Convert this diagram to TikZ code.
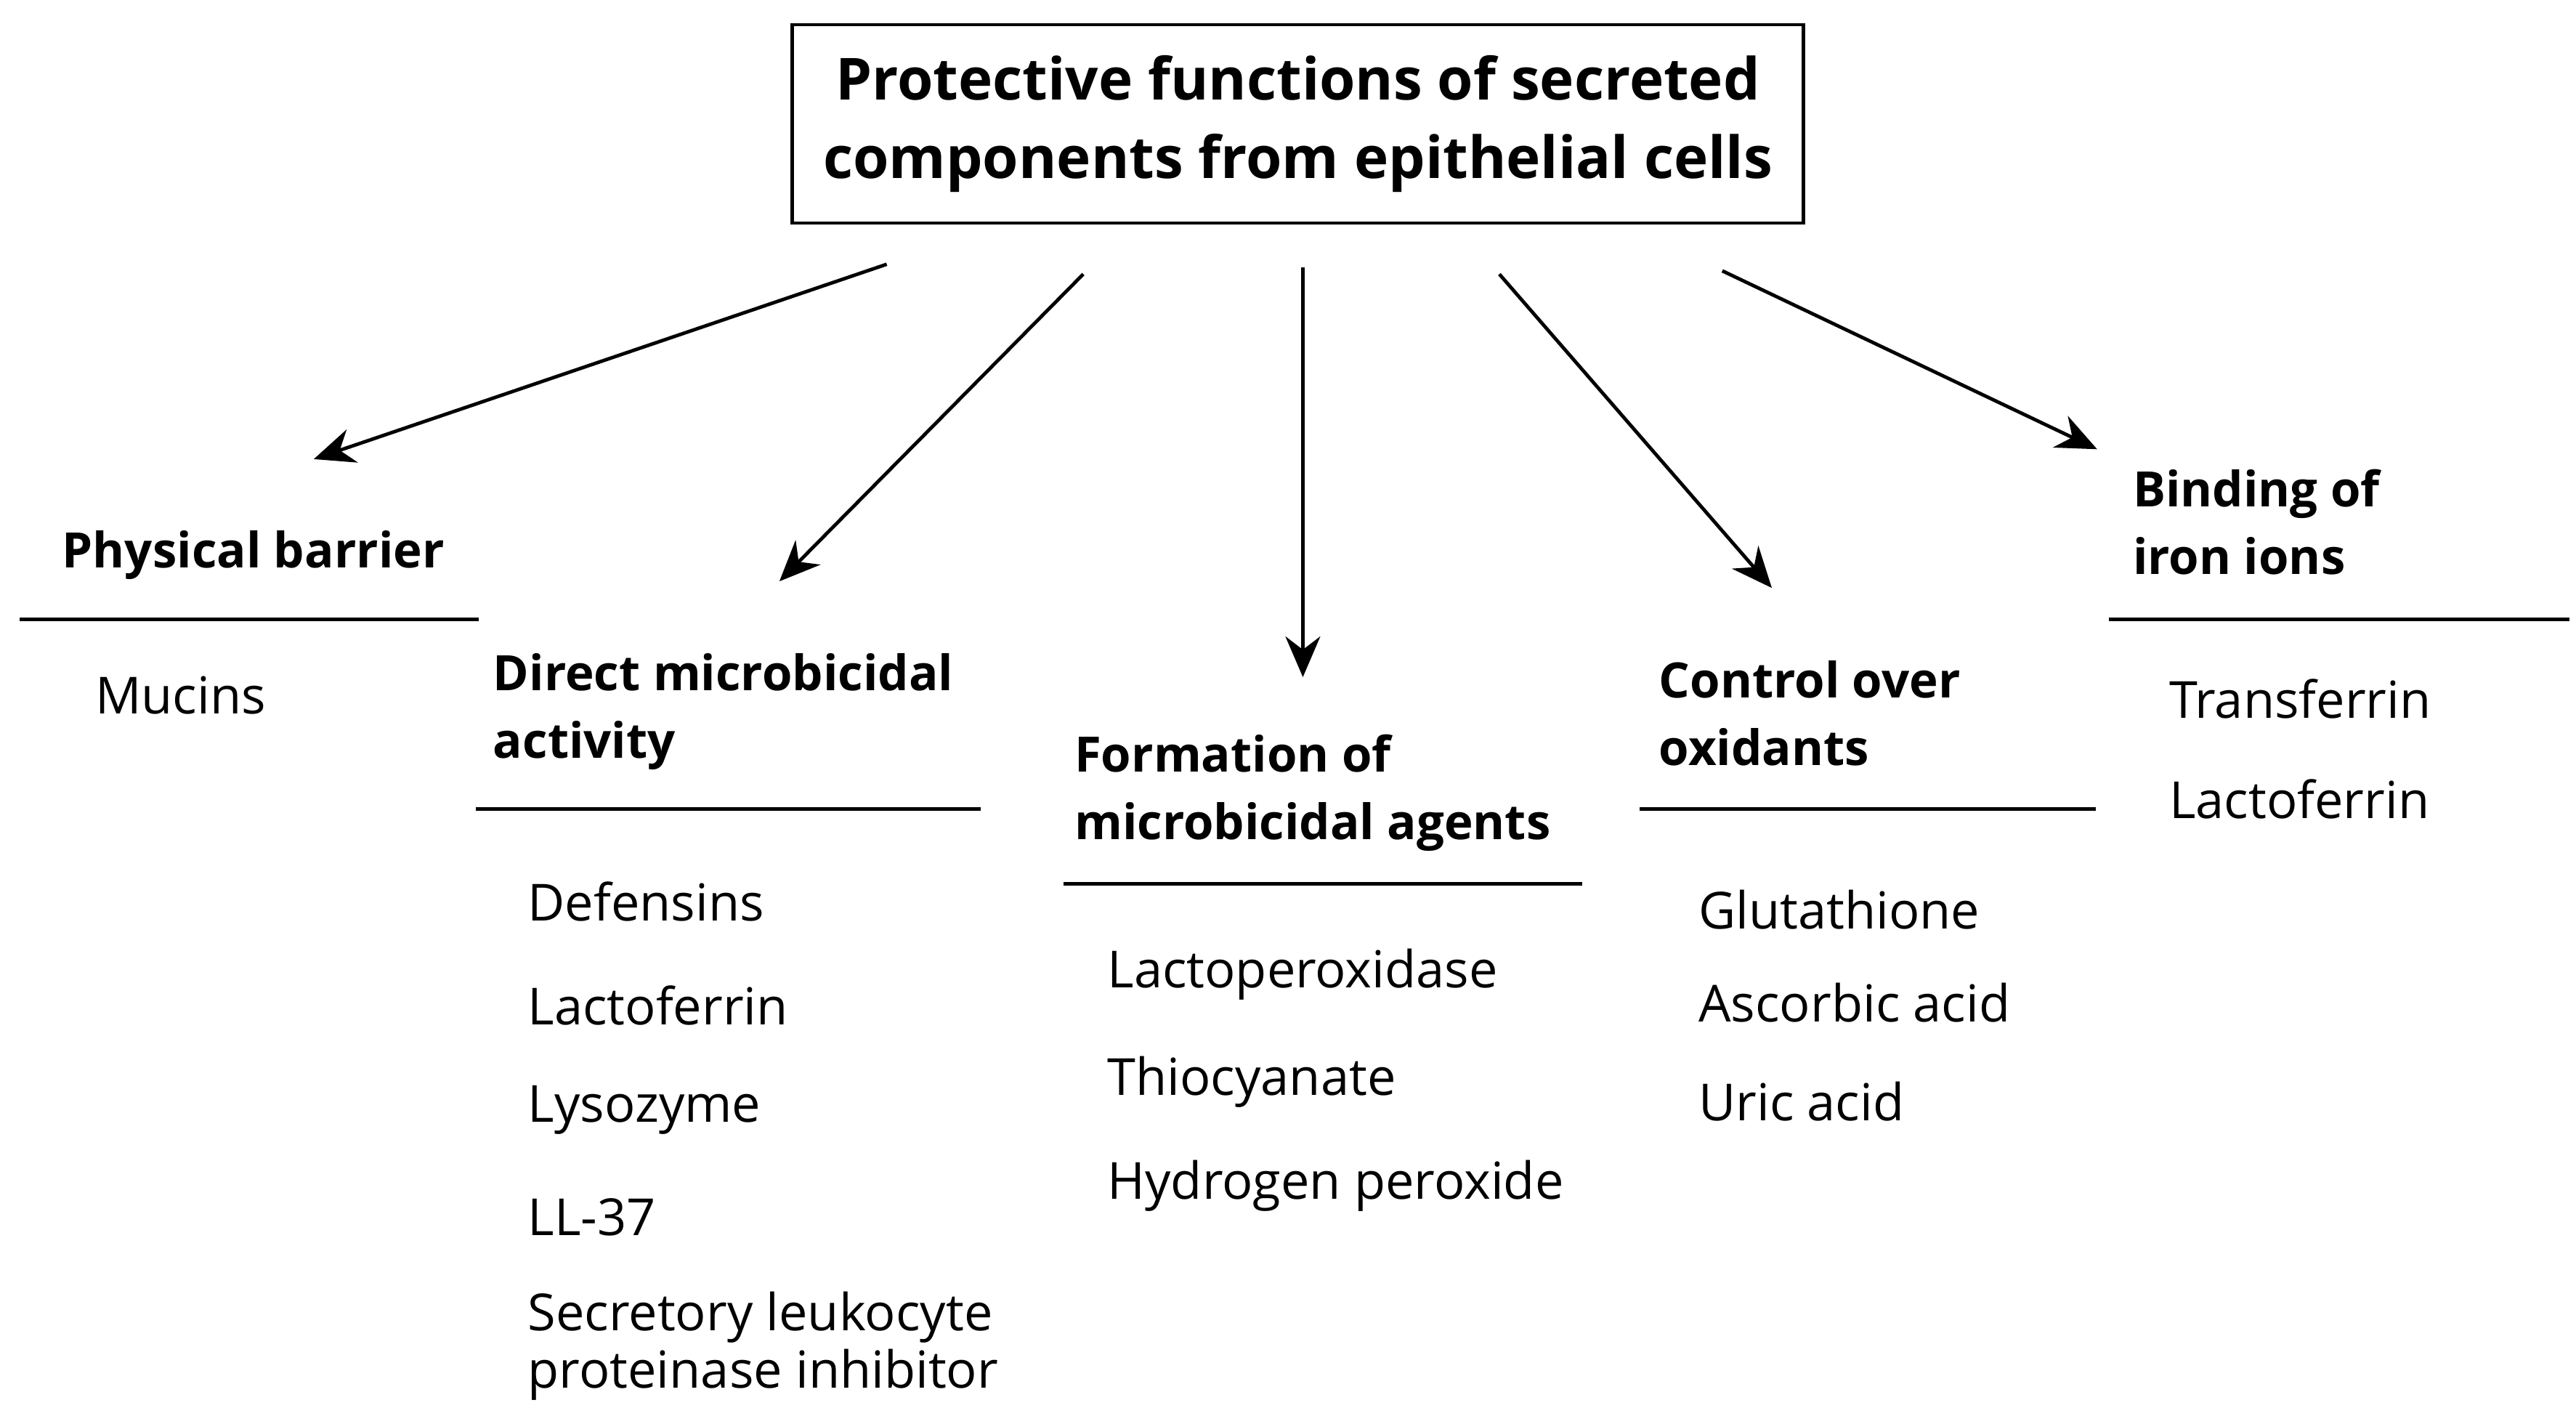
\documentclass[tikz,border=0pt]{standalone}
\usepackage{fontspec}
\setmainfont{Open Sans}
\usetikzlibrary{arrows.meta}
\begin{document}
\begin{tikzpicture}[x=0.01cm,y=-0.01cm,
 txt/.style={anchor=west,inner sep=0pt,font=\fontsize{8.8pt}{11pt}\selectfont},
 hd/.style={anchor=west,inner sep=0pt,align=left,font=\fontsize{8.4pt}{11.6pt}\selectfont\bfseries},
 rule/.style={line width=0.6pt},
 arr/.style={line width=0.6pt,-{Stealth[length=7pt,width=6pt]}}]
\useasboundingbox (0,0) rectangle (1560,857);
\node[draw,line width=0.6pt,minimum width=6.12cm,align=center,minimum height=1.2cm,inner sep=0pt,font=\fontsize{10pt}{13.4pt}\selectfont\bfseries] (title) at (786,75) {Protective functions of secreted\\components from epithelial cells};
% arrows
\coordinate (s1) at (537,160); \coordinate (e1) at (190,278);
\coordinate (s2) at (656,166); \coordinate (e2) at (472,352);
\coordinate (s3) at (789,162); \coordinate (e3) at (789,410);
\coordinate (s4) at (908,166); \coordinate (e4) at (1073,356);
\coordinate (s5) at (1043,164); \coordinate (e5) at (1270,272);
\foreach \i in {1,...,5} \draw[arr] (s\i) -- (e\i);
% column 1
\node[hd] (h1) at (37,336) {Physical barrier};
\coordinate (l1a) at (12,375); \coordinate (l1b) at (290,375); \draw[rule] (l1a) -- (l1b);
\node[txt] (m1) at (57,421) {Mucins};
% column 2
\node[hd] (h2) at (298,431) {Direct microbicidal\\activity};
\coordinate (l2a) at (288,490); \coordinate (l2b) at (594,490); \draw[rule] (l2a) -- (l2b);
\node[txt] (d1) at (319,546) {Defensins};
\node[txt] (d2) at (319,609) {Lactoferrin};
\node[txt] (d3) at (319,672) {Lysozyme};
\node[txt] (d4) at (319,737) {LL-37};
\node[txt,align=left,font=\fontsize{8.8pt}{8.3pt}\selectfont] (d5) at (319,815) {Secretory leukocyte\\proteinase inhibitor};
% column 3
\node[hd] (h3) at (650,480) {Formation of\\microbicidal agents};
\coordinate (l3a) at (644,535); \coordinate (l3b) at (958,535); \draw[rule] (l3a) -- (l3b);
\node[txt] (f1) at (670,590) {Lactoperoxidase};
\node[txt] (f2) at (670,655) {Thiocyanate};
\node[txt] (f3) at (670,718) {Hydrogen peroxide};
% column 4
\node[hd] (h4) at (1004,432) {Control over\\oxidants};
\coordinate (l4a) at (993,490); \coordinate (l4b) at (1269,490); \draw[rule] (l4a) -- (l4b);
\node[txt] (c1) at (1028,551) {Glutathione};
\node[txt] (c2) at (1028,607) {Ascorbic acid};
\node[txt] (c3) at (1028,667) {Uric acid};
% column 5
\node[hd] (h5) at (1291,316) {Binding of\\iron ions};
\coordinate (l5a) at (1277,375); \coordinate (l5b) at (1556,375); \draw[rule] (l5a) -- (l5b);
\node[txt] (b1) at (1313,423) {Transferrin};
\node[txt] (b2) at (1313,484) {Lactoferrin};
\end{tikzpicture}
\end{document}
